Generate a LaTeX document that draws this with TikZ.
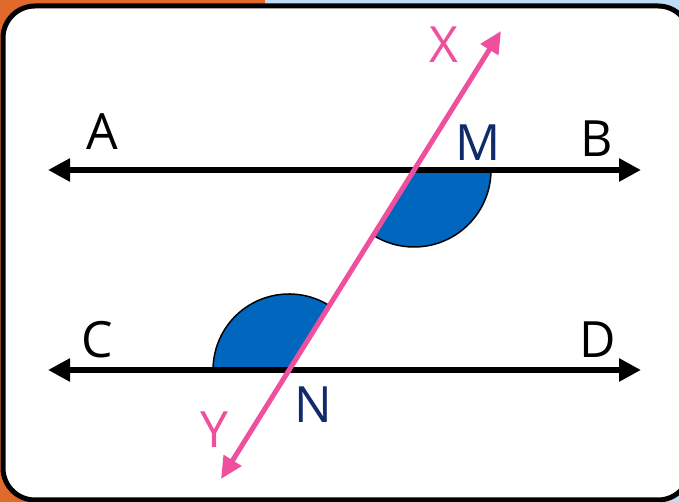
\documentclass[tikz,border=0pt]{standalone}
\usepackage{fontspec}
\setmainfont{Open Sans}
\usetikzlibrary{arrows.meta}
\definecolor{bgorange}{RGB}{224,106,44}
\definecolor{bgblue}{RGB}{191,220,247}
\definecolor{pinkline}{RGB}{238,80,158}
\definecolor{anglefill}{RGB}{0,102,190}
\definecolor{navy}{RGB}{16,42,108}
\tikzset{
  parline/.style={line width=6pt, black, {Triangle[length=22pt,width=22pt]}-{Triangle[length=22pt,width=22pt]}},
  transv/.style={line width=5pt, pinkline, {Triangle[length=22pt,width=20pt]}-{Triangle[length=22pt,width=20pt]}},
  lab/.style={font=\fontsize{50}{50}\selectfont, inner sep=0pt},
  sector/.style={fill=anglefill},
  arcline/.style={line width=1.5pt, black}
}
\begin{document}
\begin{tikzpicture}[x=1pt,y=1pt]
\useasboundingbox (0,0) rectangle (679,502);
\clip (0,0) rectangle (679,502);
% background
\fill[bgorange] (0,0) rectangle (265,502);
\fill[bgblue] (265,0) rectangle (679,502);
% card
\draw[line width=5pt, fill=white, rounded corners=32pt] (3,2) rectangle (690,496);
% points
\coordinate (ABl) at (48,332);
\coordinate (ABr) at (641,332);
\coordinate (CDl) at (48,132);
\coordinate (CDr) at (641,132);
\coordinate (Ytip) at (221,23);
\coordinate (Xtip) at (501,471);
\coordinate (M) at (414,332);
\coordinate (N) at (289,132);
% angle sectors
\fill[sector] (M) -- ([shift={(0:77)}]M) arc[start angle=0, end angle=-122, radius=77] -- cycle;
\draw[arcline] ([shift={(0:77)}]M) arc[start angle=0, end angle=-122, radius=77];
\fill[sector] (N) -- ([shift={(58:76)}]N) arc[start angle=58, end angle=180, radius=76] -- cycle;
\draw[arcline] ([shift={(58:76)}]N) arc[start angle=58, end angle=180, radius=76];
% parallel lines
\draw[parline] (ABl) -- (ABr);
\draw[parline] (CDl) -- (CDr);
% transversal
\draw[transv] (Ytip) -- (Xtip);
% labels
\node[lab] (lA) at (102,370) {A};
\node[lab] (lB) at (597,363) {B};
\node[lab, text=navy] (lM) at (478,359) {M};
\node[lab] (lC) at (97,162) {C};
\node[lab] (lD) at (598,162) {D};
\node[lab, text=navy] (lN) at (313,97) {N};
\node[lab, text=pinkline] (lX) at (444,457) {X};
\node[lab, text=pinkline] (lY) at (214,72) {Y};
\end{tikzpicture}
\end{document}
